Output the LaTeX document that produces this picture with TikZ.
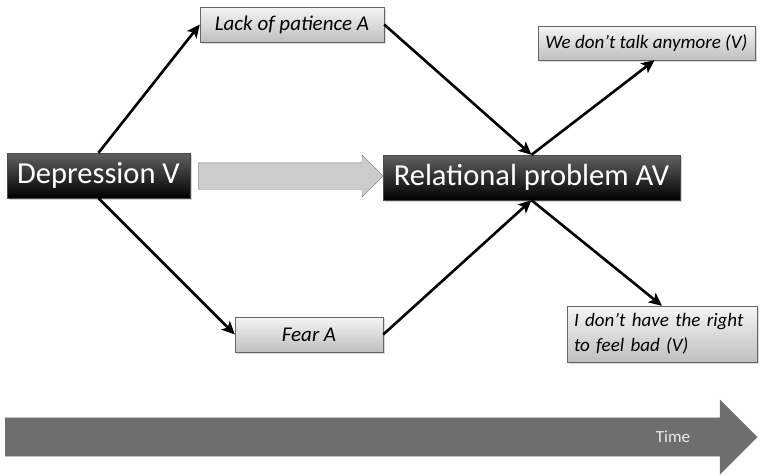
\documentclass[tikz,border=0pt]{standalone}
\usepackage{fontspec}
\setmainfont{Carlito}
\usepackage{tikz}
\usetikzlibrary{positioning,shapes.arrows,shadows,arrows.meta}

\begin{document}
\begin{tikzpicture}[x=1pt, y=-1pt,
  darkbox/.style = {shape = rectangle, draw = black!70, top color = black!62, bottom color = black, text = white, inner sep = 0pt, font = \fontsize{30.5}{36}\selectfont, drop shadow = {opacity = 0.35, shadow xshift = 2pt, shadow yshift = -2pt}},
  greybox/.style = {shape = rectangle, draw = black!60, top color = black!4, bottom color = black!25, inner sep = 0pt, font = \fontsize{21}{25}\selectfont\itshape, drop shadow = {opacity = 0.3, shadow xshift = 2pt, shadow yshift = -2pt}},
  smallbox/.style = {greybox, font = \fontsize{19}{25}\selectfont\itshape},
  blockarrow/.style = {single arrow, single arrow head indent = 0pt, inner xsep = 0pt, anchor = tail},
  link/.style = {line width = 2.6pt, -{Stealth[length = 13pt, width = 12pt, inset = 3pt]}}]
\useasboundingbox (0,0) rectangle (765,475);
\node[darkbox, minimum width = 183, minimum height = 45] (dep) at (98.5,175.5) {Depression V};
\node[darkbox, minimum width = 297, minimum height = 45] (rel) at (531.5,177.5) {Relational problem AV};
\node[greybox, minimum width = 184, minimum height = 35] (lack) at (292,24.5) {Lack of patience A};
\node[greybox, minimum width = 148, minimum height = 35] (fear) at (309,334.5) {Fear A};
\node[smallbox, minimum width = 217, minimum height = 34] (talk) at (646.5,43) {We don’t talk anymore (V)};
\node[smallbox, minimum width = 190, minimum height = 56, text width = 176, align = left] (right) at (662,334) {I don’t have the right\\to feel bad (V)};
\node[blockarrow, draw = black!55, fill = black!20, minimum height = 185, inner ysep = 13, single arrow head extend = 8] (flow) at (198,176) {};
\node[blockarrow, draw = black!55, fill = black!57, minimum height = 752, inner ysep = 19, single arrow head extend = 18] (timeline) at (5,437) {};
\node[text = black!8, font = \fontsize{17}{20}\selectfont] (timelbl) at (673,437) {Time};
\draw[link] (dep.north) -- (lack.west);
\draw[link] (lack.east) -- (rel.north);
\draw[link] (rel.north) -- ([xshift = 8]talk.south);
\draw[link] (dep.south) -- (fear.west);
\draw[link] (fear.east) -- (rel.south);
\draw[link] (rel.south) -- (right.north);
\end{tikzpicture}
\end{document}
